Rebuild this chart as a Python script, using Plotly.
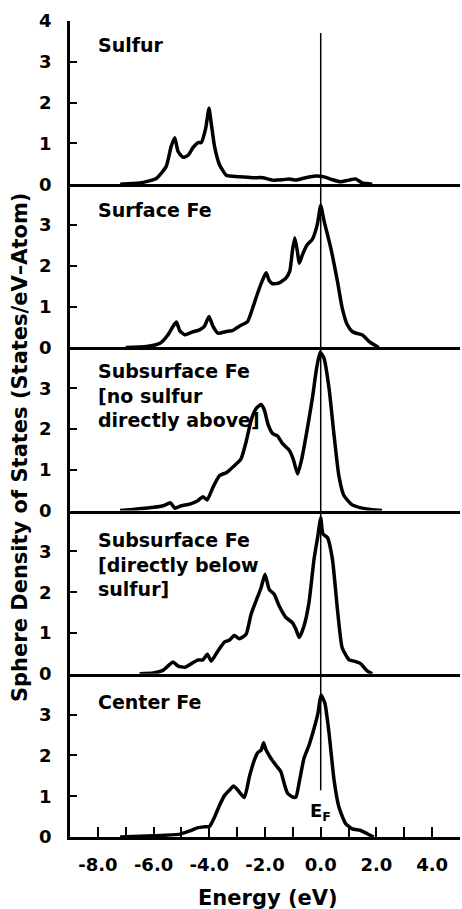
import plotly.graph_objects as go
from plotly.subplots import make_subplots

# ---------------- data ----------------
sulfur_E = [-7.2, -6.5, -5.9, -5.55, -5.37, -5.24, -5.12, -4.94, -4.76, -4.58, -4.4, -4.29, -4.13, -4.01,
            -3.93, -3.81, -3.63, -3.39, -3.27, -2.92, -2.44, -2.08, -1.73, -1.37, -1.13, -0.89, -0.54,
            -0.18, 0.12, 0.42, 0.71, 1.01, 1.25, 1.49, 1.85]
sulfur_D = [0.0, 0.03, 0.14, 0.43, 0.92, 1.14, 0.8, 0.66, 0.71, 0.9, 1.02, 1.02, 1.37, 1.86,
            1.49, 0.92, 0.47, 0.22, 0.2, 0.18, 0.16, 0.16, 0.1, 0.11, 0.13, 0.1, 0.16,
            0.2, 0.18, 0.11, 0.06, 0.1, 0.13, 0.03, 0.0]

surface_E = [-7.0, -6.25, -5.77, -5.48, -5.3, -5.18, -5.06, -4.88, -4.64, -4.35, -4.17, -4.01, -3.87,
             -3.69, -3.39, -3.15, -2.92, -2.62, -2.44, -2.26, -2.08, -1.96, -1.85, -1.73, -1.49, -1.25,
             -1.11, -1.01, -0.93, -0.83, -0.77, -0.65, -0.48, -0.3, -0.12, 0.0, 0.12, 0.36, 0.6, 0.77,
             0.95, 1.13, 1.37, 1.49, 1.73, 2.08]
surface_D = [0.0, 0.02, 0.1, 0.31, 0.52, 0.62, 0.41, 0.31, 0.37, 0.43, 0.52, 0.76, 0.52,
             0.35, 0.39, 0.42, 0.52, 0.64, 0.97, 1.34, 1.66, 1.83, 1.64, 1.56, 1.58, 1.7,
             1.87, 2.4, 2.69, 2.32, 2.06, 2.28, 2.52, 2.65, 3.02, 3.48, 3.1, 2.44, 1.62, 0.97,
             0.56, 0.39, 0.33, 0.31, 0.15, 0.0]

sub_nos_E = [-7.2, -6.73, -6.0, -5.65, -5.39, -5.24, -5.0, -4.7, -4.4, -4.23, -4.08, -3.87, -3.63,
             -3.39, -3.15, -2.86, -2.68, -2.5, -2.32, -2.14, -2.02, -1.9, -1.73, -1.55, -1.37, -1.13,
             -0.99, -0.83, -0.68, -0.48, -0.3, -0.15, -0.02, 0.12, 0.3, 0.48, 0.65, 0.83, 1.13, 1.49,
             1.85, 2.2]
sub_nos_D = [0.0, 0.03, 0.08, 0.12, 0.19, 0.06, 0.12, 0.16, 0.25, 0.34, 0.26, 0.57, 0.86,
             0.93, 1.07, 1.27, 1.68, 2.21, 2.5, 2.6, 2.46, 2.13, 1.89, 1.83, 1.64, 1.48,
             1.27, 0.9, 1.27, 2.01, 2.75, 3.48, 3.88, 3.73, 2.99, 1.84, 0.86, 0.37, 0.14, 0.06,
             0.02, 0.0]

sub_below_E = [-6.5, -6.0, -5.65, -5.42, -5.3, -5.12, -4.88, -4.64, -4.4, -4.23, -4.07, -3.93, -3.69,
               -3.45, -3.27, -3.1, -2.92, -2.68, -2.5, -2.32, -2.14, -2.0, -1.85, -1.67, -1.49, -1.25,
               -1.01, -0.89, -0.77, -0.6, -0.42, -0.24, -0.1, 0.0, 0.08, 0.24, 0.42, 0.6, 0.77, 1.01,
               1.25, 1.43, 1.67, 1.85]
sub_below_D = [0.0, 0.02, 0.09, 0.23, 0.29, 0.19, 0.16, 0.25, 0.34, 0.34, 0.48, 0.31, 0.56,
               0.78, 0.83, 0.94, 0.86, 0.97, 1.46, 1.79, 2.11, 2.44, 2.07, 1.95, 1.66, 1.38,
               1.25, 1.09, 0.89, 1.17, 1.75, 2.81, 3.39, 3.82, 3.43, 3.34, 2.81, 1.58, 0.64, 0.35,
               0.3, 0.25, 0.07, 0.0]

center_E = [-7.2, -6.0, -5.05, -4.7, -4.4, -4.17, -3.99, -3.81, -3.63, -3.45, -3.27, -3.13, -2.98,
            -2.74, -2.56, -2.38, -2.26, -2.14, -2.05, -1.96, -1.79, -1.61, -1.43, -1.31, -1.19, -1.01,
            -0.89, -0.77, -0.6, -0.42, -0.24, -0.1, 0.01, 0.15, 0.3, 0.48, 0.65, 0.89, 1.13, 1.43,
            1.67, 1.9]
center_D = [0.0, 0.03, 0.07, 0.15, 0.23, 0.25, 0.26, 0.49, 0.78, 1.02, 1.15, 1.25, 1.15,
            0.97, 1.48, 1.89, 2.07, 2.13, 2.31, 2.13, 1.93, 1.76, 1.6, 1.31, 1.07, 0.98,
            0.98, 1.35, 1.93, 2.25, 2.66, 3.03, 3.48, 3.28, 2.54, 1.39, 0.74, 0.33, 0.2, 0.16,
            0.08, 0.0]

panel_labels = ["Sulfur",
                "Surface Fe",
                "Subsurface Fe<br>[no sulfur<br>directly above]",
                "Subsurface Fe<br>[directly below<br>sulfur]",
                "Center Fe"]
label_y = [3.41, 3.37, 2.81, 2.69, 3.31]

x_tickvals = [-8, -6, -4, -2, 0, 2, 4]
x_ticktext = ["-8.0", "-6.0", "-4.0", "-2.0", "0.0", "2.0", "4.0"]

series = [(sulfur_E, sulfur_D), (surface_E, surface_D), (sub_nos_E, sub_nos_D),
          (sub_below_E, sub_below_D), (center_E, center_D)]

# ---------------- figure ----------------
FONT = "DejaVu Sans"
fig = make_subplots(rows=5, cols=1, shared_xaxes=True, vertical_spacing=0)

for i, (E, D) in enumerate(series):
    fig.add_trace(go.Scatter(x=E, y=D, mode="lines",
                             line=dict(color="black", width=3.5, shape="spline", smoothing=0.5),
                             showlegend=False, hoverinfo="skip"), row=i + 1, col=1)

for i in range(5):
    r = i + 1
    yt = [0, 1, 2, 3, 4] if r == 1 else [0, 1, 2, 3]
    fig.update_yaxes(row=r, col=1, range=[0, 4], tickvals=yt, ticktext=[str(v) for v in yt],
                     ticks="inside", ticklen=7, tickwidth=2, tickcolor="black",
                     showline=True, linewidth=2.5, linecolor="black",
                     showgrid=False, zeroline=False, ticklabelstandoff=12,
                     tickfont=dict(family=FONT, size=18, color="black", weight="bold"))
    if r < 5:
        fig.update_xaxes(row=r, col=1, range=[-9, 5], showline=True, linewidth=2.5,
                         linecolor="black", showgrid=False, zeroline=False,
                         ticks="", showticklabels=False)
    else:
        fig.update_xaxes(row=r, col=1, range=[-9, 5], showline=True, linewidth=2.5,
                         linecolor="black", showgrid=False, zeroline=False,
                         tickvals=x_tickvals, ticktext=x_ticktext,
                         ticks="inside", ticklen=10, tickwidth=2, tickcolor="black",
                         minor=dict(tickmode="linear", tick0=0, dtick=1, ticks="inside",
                                    ticklen=10, tickwidth=2, tickcolor="black", showgrid=False),
                         showticklabels=True, ticklabelstandoff=10,
                         tickfont=dict(family=FONT, size=18, color="black", weight="bold"))

# panel labels
for i, txt in enumerate(panel_labels):
    yref = "y" if i == 0 else "y%d" % (i + 1)
    xref = "x" if i == 0 else "x%d" % (i + 1)
    fig.add_annotation(x=-8.05, y=label_y[i], xref=xref, yref=yref, text=txt,
                       showarrow=False, xanchor="left", yanchor="middle", align="left",
                       font=dict(family=FONT, size=19, color="black", weight="bold"))

# Fermi level line
fig.add_shape(type="line", xref="x5", yref="paper", x0=0, x1=0, y0=0.0573, y1=0.9853,
              line=dict(color="black", width=1.5), layer="above")
fig.add_annotation(x=0, y=0.0303, xref="x5", yref="paper", text="E<sub>F</sub>",
                   showarrow=False, xanchor="center", yanchor="middle",
                   font=dict(family=FONT, size=18, color="black", weight="bold"))

# axis titles
fig.add_annotation(x=-0.128, y=0.478, xref="paper", yref="paper",
                   text="Sphere Density of States (States/eV\u2013Atom)", textangle=-90,
                   showarrow=False, xanchor="center", yanchor="middle",
                   font=dict(family=FONT, size=21, color="black", weight="bold"))
fig.add_annotation(x=0.508, y=-0.0752, xref="paper", yref="paper", text="Energy (eV)",
                   showarrow=False, xanchor="center", yanchor="middle",
                   font=dict(family=FONT, size=21, color="black", weight="bold"))

fig.update_layout(width=462, height=909, margin=dict(l=70, r=2, t=21, b=72),
                  paper_bgcolor="white", plot_bgcolor="white",
                  font=dict(family=FONT, color="black"))

fig.write_html("out.html")
